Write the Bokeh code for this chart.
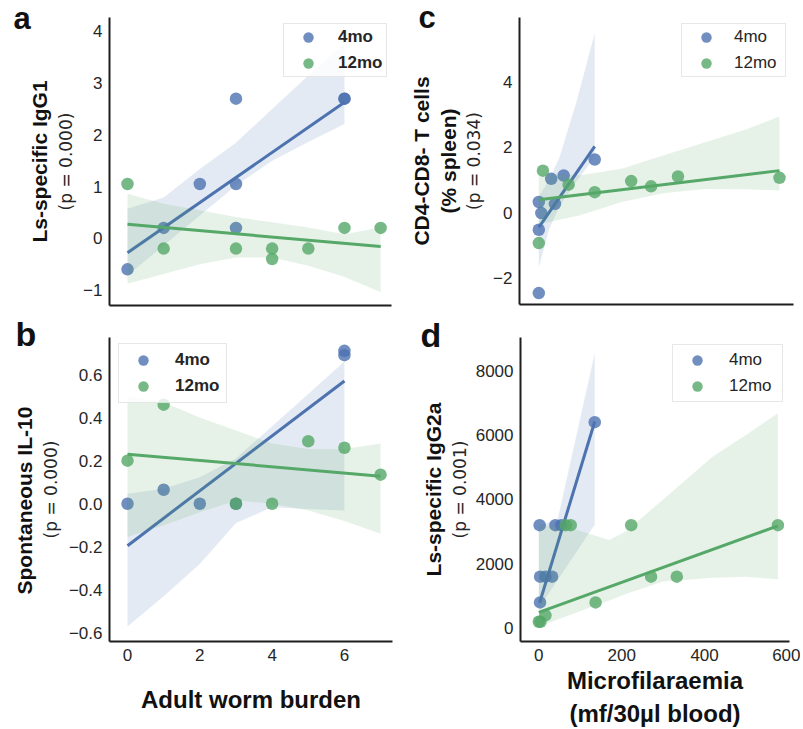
from bokeh.plotting import figure
from bokeh.models import Range1d, FixedTicker, Legend, LegendItem, Title
from bokeh.layouts import column, row
from bokeh.embed import file_html
from bokeh.resources import INLINE

# ---------------- data ----------------
SERIES = ["4mo", "12mo"]

# panel a : Adult worm burden vs Ls-specific IgG1
a_x_4 = [0, 1, 2, 3, 3, 3, 6, 6]
a_y_4 = [-0.6, 0.2, 1.05, 2.7, 1.05, 0.2, 2.7, 2.7]
a_x_12 = [0, 1, 3, 4, 4, 5, 6, 7]
a_y_12 = [1.05, -0.2, -0.2, -0.2, -0.4, -0.2, 0.2, 0.2]
a_fit_x_4 = [0, 6]
a_fit_y_4 = [-0.28, 2.63]
a_fit_x_12 = [0, 7]
a_fit_y_12 = [0.27, -0.16]
a_band_x_4 = [0, 1, 2, 3, 4, 5, 6]
a_band_lo_4 = [-0.72, -0.14, 0.44, 1.02, 1.50, 1.86, 2.21]
a_band_hi_4 = [0.57, 0.79, 1.34, 1.85, 2.50, 3.15, 3.76]
a_band_x_12 = [0, 1, 2, 3, 4, 5, 6, 7]
a_band_lo_12 = [-0.88, -0.69, -0.50, -0.37, -0.37, -0.53, -0.75, -1.04]
a_band_hi_12 = [0.86, 0.67, 0.54, 0.41, 0.31, 0.21, 0.08, 0.21]
a_yticks = [-1, 0, 1, 2, 3, 4]
a_yticklabels = ["\u22121", "0", "1", "2", "3", "4"]

# panel b : Adult worm burden vs Spontaneous IL-10
b_x_4 = [0, 1, 2, 3, 6, 6]
b_y_4 = [0.0, 0.065, 0.0, 0.0, 0.69, 0.71]
b_x_12 = [0, 1, 3, 4, 5, 6, 7]
b_y_12 = [0.2, 0.46, 0.0, 0.0, 0.29, 0.26, 0.135]
b_fit_x_4 = [0, 6]
b_fit_y_4 = [-0.195, 0.57]
b_fit_x_12 = [0, 7]
b_fit_y_12 = [0.23, 0.128]
b_band_x_4 = [0, 1, 2, 3, 4, 5, 6]
b_band_lo_4 = [-0.57, -0.43, -0.28, -0.09, -0.016, -0.024, -0.032]
b_band_hi_4 = [0.046, 0.069, 0.123, 0.21, 0.36, 0.51, 0.66]
b_band_x_12 = [0, 1, 2, 3, 4, 5, 6, 7]
b_band_lo_12 = [-0.155, -0.10, -0.04, 0.015, 0.0, -0.031, -0.08, -0.14]
b_band_hi_12 = [0.50, 0.47, 0.40, 0.34, 0.28, 0.254, 0.254, 0.28]
b_xticks = [0, 2, 4, 6]
b_xticklabels = ["0", "2", "4", "6"]
b_yticks = [-0.6, -0.4, -0.2, 0.0, 0.2, 0.4, 0.6]
b_yticklabels = ["\u22120.6", "\u22120.4", "\u22120.2", "0.0", "0.2", "0.4", "0.6"]

# panel c : Microfilaraemia vs CD4-CD8- T cells
c_x_4 = [0, 0, 6, 0, 30, 60, 39, 135]
c_y_4 = [-2.46, -0.52, -0.01, 0.33, 1.04, 1.14, 0.27, 1.63]
c_x_12 = [0, 10, 72, 135, 223, 271, 336, 581]
c_y_12 = [-0.93, 1.29, 0.86, 0.63, 0.97, 0.81, 1.11, 1.07]
c_fit_x_4 = [0, 135]
c_fit_y_4 = [-0.45, 2.03]
c_fit_x_12 = [0, 581]
c_fit_y_12 = [0.40, 1.29]
c_band_x_4 = [0, 25, 50, 90, 135]
c_band_lo_4 = [-1.67, -0.5, 0.2, 0.95, 1.7]
c_band_hi_4 = [0.5, 1.0, 1.7, 3.35, 5.5]
c_band_x_12 = [0, 100, 200, 300, 400, 500, 581]
c_band_lo_12 = [-0.35, -0.08, 0.33, 0.60, 0.73, 0.72, 0.68]
c_band_hi_12 = [1.2, 1.15, 1.35, 1.75, 2.15, 2.55, 2.95]
c_yticks = [-2, 0, 2, 4]
c_yticklabels = ["\u22122", "0", "2", "4"]

# panel d : Microfilaraemia vs Ls-specific IgG2a
d_x_4 = [2, 40, 54, 3, 16, 32, 3, 135]
d_y_4 = [3200, 3200, 3200, 1600, 1600, 1600, 800, 6400]
d_x_12 = [0, 4, 16, 137, 65, 77, 223, 271, 333, 577]
d_y_12 = [200, 200, 400, 800, 3200, 3200, 3200, 1600, 1600, 3200]
d_fit_x_4 = [2, 135]
d_fit_y_4 = [790, 6420]
d_fit_x_12 = [0, 577]
d_fit_y_12 = [490, 3180]
d_band_x_4 = [0, 45, 90, 135]
d_band_lo_4 = [620, 1490, 2350, 3220]
d_band_hi_4 = [3200, 3350, 5950, 8540]
d_band_x_12 = [0, 80, 170, 210, 300, 420, 500, 577]
d_band_lo_12 = [50, 430, 860, 1060, 1450, 1570, 1600, 1520]
d_band_hi_12 = [3200, 3100, 2740, 3000, 4000, 5330, 6000, 6680]
d_xticks = [0, 200, 400, 600]
d_xticklabels = ["0", "200", "400", "600"]
d_yticks = [0, 2000, 4000, 6000, 8000]
d_yticklabels = ["0", "2000", "4000", "6000", "8000"]

# ---------------- styling ----------------
BLUE = "#4C72B0"
GREEN = "#55A868"
TXT = "#262626"
DARK = "#111111"
FONT = "Liberation Sans"
PFONT = "DejaVu Sans"


def make_fig(fw, fh, left, right, top, bottom, xr, yr):
    p = figure(frame_width=fw, frame_height=fh,
               min_border_left=left, min_border_right=right,
               min_border_top=top, min_border_bottom=bottom,
               x_range=Range1d(*xr), y_range=Range1d(*yr),
               output_backend="svg", toolbar_location=None)
    p.outline_line_color = None
    p.grid.visible = False
    p.background_fill_color = "white"
    p.border_fill_color = "white"
    for ax in p.axis:
        ax.axis_line_color = "#1e1e1e"
        ax.axis_line_width = 2
        ax.major_tick_line_color = None
        ax.minor_tick_line_color = None
        ax.major_tick_out = 0
        ax.major_tick_in = 0
        ax.minor_tick_out = 0
        ax.minor_tick_in = 0
        ax.major_label_text_font = FONT
        ax.major_label_text_font_size = "17px"
        ax.major_label_text_color = TXT
        ax.major_label_standoff = 7
    return p


def set_ticks(ax, ticks, labels):
    ax.ticker = FixedTicker(ticks=ticks)
    ax.major_label_overrides = {t: l for t, l in zip(ticks, labels)}


def draw(p, xs4, ys4, fx4, fy4, bx4, blo4, bhi4, xs12, ys12, fx12, fy12, bx12, blo12, bhi12):
    p.varea(x=bx4, y1=blo4, y2=bhi4, fill_color=BLUE, fill_alpha=0.15)
    r4 = p.scatter(xs4, ys4, size=12.5, fill_color=BLUE, fill_alpha=0.8, line_color=None)
    p.line(fx4, fy4, line_color=BLUE, line_width=3)
    p.varea(x=bx12, y1=blo12, y2=bhi12, fill_color=GREEN, fill_alpha=0.15)
    r12 = p.scatter(xs12, ys12, size=12.5, fill_color=GREEN, fill_alpha=0.8, line_color=None)
    p.line(fx12, fy12, line_color=GREEN, line_width=3)
    return r4, r12


def add_legend(p, r4, r12, loc, pad, gw, standoff, lw, bold):
    leg = Legend(items=[LegendItem(label=SERIES[0], renderers=[r4]),
                        LegendItem(label=SERIES[1], renderers=[r12])],
                 location=loc, orientation="vertical", padding=pad, spacing=0,
                 glyph_width=gw, glyph_height=26, label_height=26, label_width=lw,
                 label_standoff=standoff, margin=0,
                 label_text_font=FONT, label_text_font_size="17px",
                 label_text_font_style="bold" if bold else "normal",
                 label_text_color=TXT,
                 background_fill_color="white", background_fill_alpha=0.8,
                 border_line_color="#d0d0d0", border_line_width=1)
    p.add_layout(leg)


def p_label(ax, text, standoff):
    ax.axis_label = text
    ax.axis_label_text_font = PFONT
    ax.axis_label_text_font_size = "17px"
    ax.axis_label_text_font_style = "normal"
    ax.axis_label_text_color = TXT
    ax.axis_label_standoff = standoff


def side_title(p, text, standoff, align="center", offset=0):
    p.add_layout(Title(text=text, align=align, offset=offset, standoff=standoff,
                       text_font=FONT, text_font_size="21px", text_font_style="bold",
                       text_color=DARK), "left")


def letter(p, text, offset, standoff, size):
    p.add_layout(Title(text=text, align="left", offset=offset, standoff=standoff,
                       text_font=FONT, text_font_size=f"{size}px", text_font_style="bold",
                       text_color=DARK), "above")


# ---------------- panel a ----------------
pa = make_fig(282, 288, 109, 8, 15, 10, (-0.498, 7.30), (-1.30, 4.27))
pa.xaxis.ticker = FixedTicker(ticks=[])
pa.xaxis.major_label_standoff = 0
set_ticks(pa.yaxis[0], a_yticks, a_yticklabels)
ra4, ra12 = draw(pa, a_x_4, a_y_4, a_fit_x_4, a_fit_y_4, a_band_x_4, a_band_lo_4, a_band_hi_4,
                 a_x_12, a_y_12, a_fit_x_12, a_fit_y_12, a_band_x_12, a_band_lo_12, a_band_hi_12)
add_legend(pa, ra4, ra12, (174, 228), 0, 48, 6, 48, True)
p_label(pa.yaxis[0], "(p = 0.000)", 4)
side_title(pa, "Ls-specific IgG1", 6)
letter(pa, "a", -96, -36, 31)

# ---------------- panel b ----------------
pb = make_fig(283, 304, 109, 7, 24, 85, (-0.498, 7.33), (-0.640, 0.772))
set_ticks(pb.xaxis[0], b_xticks, b_xticklabels)
set_ticks(pb.yaxis[0], b_yticks, b_yticklabels)
rb4, rb12 = draw(pb, b_x_4, b_y_4, b_fit_x_4, b_fit_y_4, b_band_x_4, b_band_lo_4, b_band_hi_4,
                 b_x_12, b_y_12, b_fit_x_12, b_fit_y_12, b_band_x_12, b_band_lo_12, b_band_hi_12)
add_legend(pb, rb4, rb12, (9, 238), 3, 42, 11, 48, True)
p_label(pb.yaxis[0], "(p = 0.000)", 5)
side_title(pb, "Spontaneous IL-10", 4, align="left", offset=47)
letter(pb, "b", -94, -31, 34)
pb.xaxis.axis_label = "Adult worm burden"
pb.xaxis.axis_label_text_font = FONT
pb.xaxis.axis_label_text_font_size = "24px"
pb.xaxis.axis_label_text_font_style = "bold"
pb.xaxis.axis_label_text_color = DARK
pb.xaxis.axis_label_standoff = 22

# ---------------- panel c ----------------
pc = make_fig(274, 287, 120, 7, 17, 9, (-46.6, 614.8), (-2.81, 5.98))
pc.xaxis.ticker = FixedTicker(ticks=[])
pc.xaxis.major_label_standoff = 0
set_ticks(pc.yaxis[0], c_yticks, c_yticklabels)
rc4, rc12 = draw(pc, c_x_4, c_y_4, c_fit_x_4, c_fit_y_4, c_band_x_4, c_band_lo_4, c_band_hi_4,
                 c_x_12, c_y_12, c_fit_x_12, c_fit_y_12, c_band_x_12, c_band_lo_12, c_band_hi_12)
add_legend(pc, rc4, rc12, (162, 227), 0, 48, 4, 51, False)
p_label(pc.yaxis[0], "(p = 0.034)", 6)
side_title(pc, "(% spleen)", 3)
side_title(pc, "CD4-CD8- T cells", 1)
letter(pc, "c", -101, -34, 31)

# ---------------- panel d ----------------
pd_ = make_fig(269, 304, 121, 11, 23, 86, (-44.2, 605.0), (-413, 9029))
set_ticks(pd_.xaxis[0], d_xticks, d_xticklabels)
set_ticks(pd_.yaxis[0], d_yticks, d_yticklabels)
rd4, rd12 = draw(pd_, d_x_4, d_y_4, d_fit_x_4, d_fit_y_4, d_band_x_4, d_band_lo_4, d_band_hi_4,
                 d_x_12, d_y_12, d_fit_x_12, d_fit_y_12, d_band_x_12, d_band_lo_12, d_band_hi_12)
add_legend(pd_, rd4, rd12, (152, 239), 2, 44, 10, 51, False)
p_label(pd_.yaxis[0], "(p = 0.001)", 3)
side_title(pd_, "Ls-specific IgG2a", 4)
letter(pd_, "d", -100, -32, 34)
pd_.xaxis.axis_label = "Microfilaraemia\n(mf/30\u00b5l blood)"
pd_.xaxis.axis_label_text_font = FONT
pd_.xaxis.axis_label_text_font_size = "24px"
pd_.xaxis.axis_label_text_font_style = "bold"
pd_.xaxis.axis_label_text_color = DARK
pd_.xaxis.axis_label_text_line_height = 1.25
pd_.xaxis.axis_label_standoff = 3

layout = column(row(pa, pc), row(pb, pd_))
open("out.html", "w").write(file_html(layout, INLINE))
